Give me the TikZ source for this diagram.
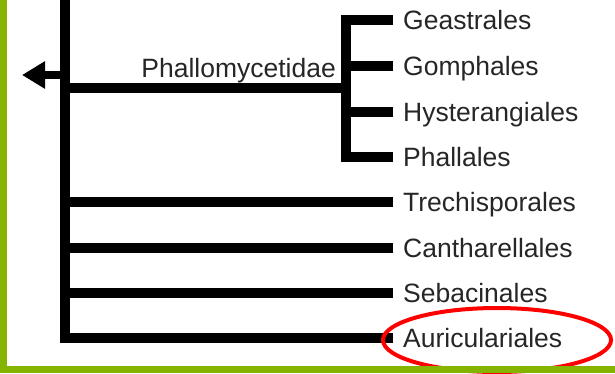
\documentclass[tikz,border=0pt]{standalone}
\usepackage{fontspec}
\setmainfont{Liberation Sans}
\usepackage{xcolor}
\usetikzlibrary{arrows.meta, shapes.geometric}
\definecolor{framegreen}{HTML}{84B400}

\begin{document}
\begin{tikzpicture}[
        x=1pt, y=-1pt,
        every node/.style={font=\fontsize{26.5}{30}\selectfont, text=black!85},
        order/.style={anchor=west, inner xsep=10pt, inner ysep=0pt, text height=19pt, text depth=0pt},
        clade/.style={anchor=base east, inner sep=0pt},
        branch/.style={line width=10pt, line join=miter},
        stub/.style={line width=8pt, -{Triangle[length=23pt, width=26pt, sep=3pt]}}
    ]
%
    \useasboundingbox (0,0) rectangle (615,373);
%
    % Orders
    \node[order] (geast) at (393, 20) {Geastrales};
    \node[order] (gomph) at (393, 66) {Gomphales};
    \node[order] (hyster) at (393, 112) {Hysterangiales};
    \node[order] (phall) at (393, 157) {Phallales};
    \node[order] (trech) at (393, 202) {Trechisporales};
    \node[order] (canth) at (393, 248) {Cantharellales};
    \node[order] (sebac) at (393, 293) {Sebacinales};
    \node[order] (auric) at (393, 338) {Auriculariales};
%
    % Junctions
    \coordinate (root) at (65, 0);
    \coordinate (pj) at (346, 88);
    \coordinate (out) at (19, 75);
%
    % Subclass
    \node[clade] (phallo) at (336, 77) {Phallomycetidae};
%
    % Tree
    \draw[branch] (root) |- (auric.west);
    \draw[branch] (root |- pj) -- (pj);
    \draw[branch] (geast.west) -| (pj) |- (phall.west);
    \foreach \t in {gomph, hyster} {
        \draw[branch] (\t.west -| pj) -- (\t.west);
    }
    \foreach \t in {trech, canth, sebac} {
        \draw[branch] (\t.west -| root) -- (\t.west);
    }
    \draw[stub] (root |- out) -- (out);
%
    % Highlight
    \node[draw=red, line width=4pt, ellipse, minimum width=228pt, minimum height=64pt, inner sep=0pt] (mark) at (497, 340) {};
%
    % Frame
    \fill[framegreen] (0,0) rectangle (7,373);
    \fill[framegreen] (0,366) rectangle (615,373);
%
\end{tikzpicture}
\end{document}
